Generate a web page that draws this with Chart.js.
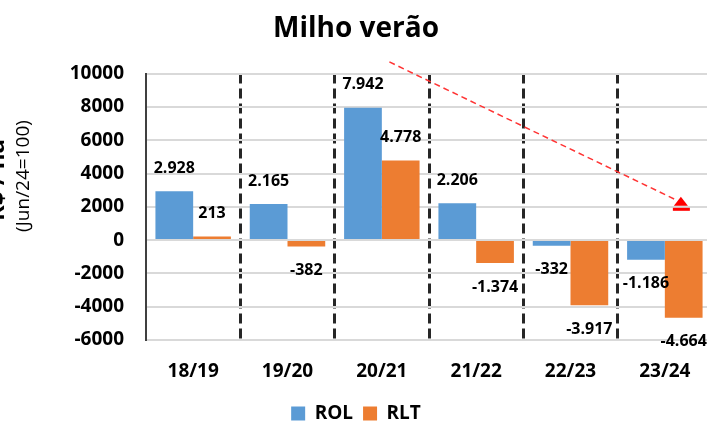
<!DOCTYPE html>
<html>
<head>
<meta charset="utf-8">
<script src="https://cdn.jsdelivr.net/npm/chart.js@4.4.1/dist/chart.umd.min.js"></script>
<style>
  html, body { margin: 0; padding: 0; overflow: hidden; background: #fff; }
  #wrap { width: 712px; height: 425px; }
</style>
</head>
<body>
<div id="wrap"><canvas id="milho"></canvas></div>
<script>
// Dados - Milho verão (R$/ha, Jun/24=100)
const safras = ["18/19", "19/20", "20/21", "21/22", "22/23", "23/24"];
const rol = [2928, 2165, 7942, 2206, -332, -1186];
const rlt = [213, -382, 4778, -1374, -3917, -4664];
// seta de tendência (posição na escala: índice da safra, valor)
const setaInicio = [2.08, 10700];
const setaFim = [5.17, 2300];

const fonte = "'Open Sans', 'DejaVu Sans', sans-serif";

function formatoBR(v) {
  const s = Math.abs(v).toString().replace(/\B(?=(\d{3})+(?!\d))/g, ".");
  return (v < 0 ? "-" : "") + s;
}

// rótulos de valor nas barras
const rotulos = {
  id: "rotulos",
  afterDatasetsDraw(chart) {
    const ctx = chart.ctx;
    ctx.save();
    ctx.font = "bold 16px " + fonte;
    ctx.fillStyle = "#000";
    ctx.textAlign = "center";
    ctx.textBaseline = "middle";
    chart.data.datasets.forEach((ds, i) => {
      chart.getDatasetMeta(i).data.forEach((bar, j) => {
        const v = ds.data[j];
        const y = v >= 0 ? bar.y - 23 : bar.y + 24;
        ctx.fillText(formatoBR(v), bar.x, y);
      });
    });
    ctx.restore();
  }
};

// seta vermelha tracejada + título do eixo y
const extras = {
  id: "extras",
  afterDraw(chart) {
    const ctx = chart.ctx;
    const x = chart.scales.x, y = chart.scales.y;
    const x1 = x.getPixelForValue(setaInicio[0]), y1 = y.getPixelForValue(setaInicio[1]);
    const x2 = x.getPixelForValue(setaFim[0]), y2 = y.getPixelForValue(setaFim[1]);
    ctx.save();
    ctx.strokeStyle = "#ff3333";
    ctx.lineWidth = 1.5;
    ctx.setLineDash([6, 4]);
    ctx.beginPath();
    ctx.moveTo(x1, y1);
    ctx.lineTo(x2 - 5, y2 - 2);
    ctx.stroke();
    ctx.setLineDash([]);
    ctx.fillStyle = "#ff0000";
    ctx.beginPath();
    ctx.moveTo(x2, y2 - 5);
    ctx.lineTo(x2 + 7, y2 + 4);
    ctx.lineTo(x2 - 7, y2 + 4);
    ctx.closePath();
    ctx.fill();
    ctx.fillRect(x2 - 8, y2 + 6, 17, 3);
    ctx.restore();

    ctx.save();
    ctx.fillStyle = "#000";
    ctx.textAlign = "center";
    ctx.textBaseline = "middle";
    ctx.translate(-3, 180);
    ctx.rotate(-Math.PI / 2);
    ctx.font = "bold 24px " + fonte;
    ctx.fillText("R$ / ha", 0, 0);
    ctx.restore();
    ctx.save();
    ctx.fillStyle = "#000";
    ctx.textAlign = "center";
    ctx.textBaseline = "middle";
    ctx.translate(24, 176);
    ctx.rotate(-Math.PI / 2);
    ctx.font = "19px " + fonte;
    ctx.fillText("(Jun/24=100)", 0, 0);
    ctx.restore();
  }
};

const config = {
  type: "bar",
  data: {
    labels: safras,
    datasets: [
      {
        label: "ROL",
        data: rol,
        backgroundColor: "#5b9bd5",
        borderWidth: 0,
        categoryPercentage: 0.8,
        barPercentage: 1.0
      },
      {
        label: "RLT",
        data: rlt,
        backgroundColor: "#ed7d31",
        borderWidth: 0,
        categoryPercentage: 0.8,
        barPercentage: 1.0
      }
    ]
  },
  options: {
    responsive: true,
    maintainAspectRatio: false,
    animation: false,
    layout: { padding: { left: 0, right: 0, top: 0, bottom: -8 } },
    scales: {
      x: {
        grid: {
          offset: true,
          drawTicks: false,
          lineWidth: 3,
          color: (c) => (c.index === 0 ? "rgba(0,0,0,0)" : "#262626")
        },
        border: { display: false, dash: [10, 5] },
        ticks: {
          padding: 20,
          color: "#000",
          font: { family: fonte, size: 19, weight: "bold" }
        },
        afterFit: (s) => { s.height = 54; }
      },
      y: {
        min: -6000,
        max: 10000,
        ticks: {
          stepSize: 2000,
          padding: 22,
          color: "#000",
          font: { family: fonte, size: 19, weight: "bold" },
          callback: (v) => String(v)
        },
        grid: { drawTicks: false, color: "#d9d9d9", lineWidth: 2 },
        border: { display: true, color: "#404040", width: 2 },
        afterFit: (s) => { s.width = 146; }
      }
    },
    plugins: {
      title: {
        display: true,
        text: "Milho verão",
        color: "#000",
        font: { family: fonte, size: 28, weight: "bold", lineHeight: 1.2 },
        padding: { top: 12, bottom: 28 }
      },
      legend: {
        position: "bottom",
        labels: {
          color: "#000",
          boxWidth: 14,
          boxHeight: 14,
          padding: 10,
          font: { family: fonte, size: 19, weight: "bold" }
        }
      },
      tooltip: { enabled: false }
    }
  },
  plugins: [rotulos, extras]
};

const grafico = new Chart(document.getElementById("milho").getContext("2d"), config);
</script>
</body>
</html>
